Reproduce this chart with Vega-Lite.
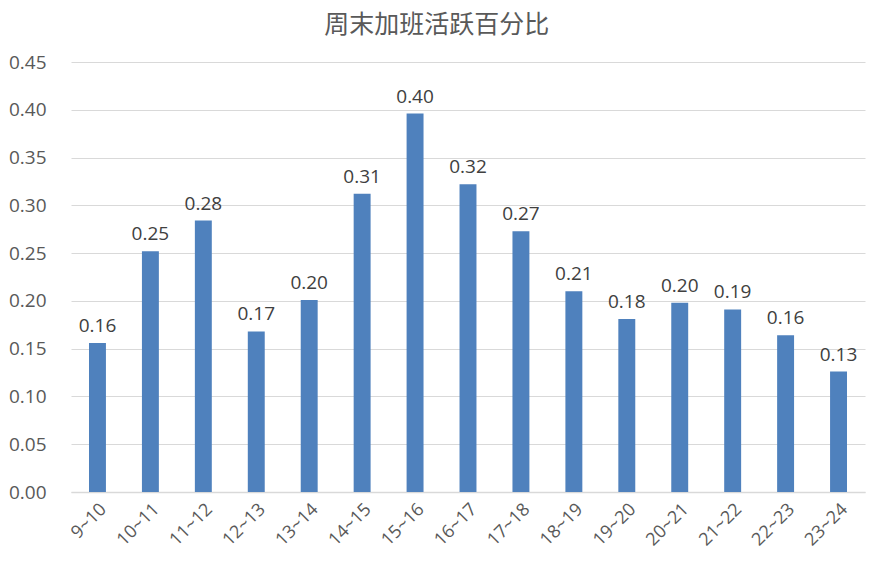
{
  "$schema": "https://vega.github.io/schema/vega-lite/v6.json",
  "autosize": {"type": "none"},
  "width": 794,
  "height": 430,
  "padding": {"left": 71, "top": 62, "right": 12, "bottom": 78},
  "background": "white",
  "config": {"view": {"stroke": null}},
  "title": {
    "text": "周末加班活跃百分比",
    "font": "Noto Sans CJK SC",
    "fontSize": 25,
    "fontWeight": "normal",
    "color": "#595959",
    "anchor": "middle",
    "frame": "bounds",
    "offset": 15
  },
  "data": {
    "values": [
      {"hour": "9~10", "value": 0.156},
      {"hour": "10~11", "value": 0.252},
      {"hour": "11~12", "value": 0.284},
      {"hour": "12~13", "value": 0.168},
      {"hour": "13~14", "value": 0.201},
      {"hour": "14~15", "value": 0.312},
      {"hour": "15~16", "value": 0.396},
      {"hour": "16~17", "value": 0.322},
      {"hour": "17~18", "value": 0.273},
      {"hour": "18~19", "value": 0.210},
      {"hour": "19~20", "value": 0.181},
      {"hour": "20~21", "value": 0.198},
      {"hour": "21~22", "value": 0.191},
      {"hour": "22~23", "value": 0.164},
      {"hour": "23~24", "value": 0.126}
    ]
  },
  "encoding": {
    "x": {
      "field": "hour",
      "type": "nominal",
      "sort": null,
      "scale": {"paddingInner": 0.68, "paddingOuter": 0.34},
      "axis": {
        "title": null,
        "labelAngle": -45,
        "labelFont": "Open Sans",
        "labelFontSize": 18,
        "labelColor": "#595959",
        "labelPadding": 8,
        "ticks": false,
        "domainColor": "#d9d9d9",
        "domainWidth": 1.5
      }
    },
    "y": {
      "field": "value",
      "type": "quantitative",
      "scale": {"domain": [0, 0.45], "nice": false},
      "axis": {
        "title": null,
        "values": [0, 0.05, 0.1, 0.15, 0.2, 0.25, 0.3, 0.35, 0.4, 0.45],
        "format": ".2f",
        "labelFont": "Open Sans",
        "labelFontSize": 19,
        "labelColor": "#595959",
        "labelPadding": 25,
        "ticks": false,
        "domain": false,
        "gridColor": "#d9d9d9",
        "gridWidth": 1.2
      }
    }
  },
  "layer": [
    {"mark": {"type": "bar", "color": "#4F81BD"}},
    {
      "mark": {
        "type": "text",
        "baseline": "bottom",
        "dy": -7,
        "font": "Open Sans",
        "fontSize": 19,
        "color": "#404040"
      },
      "encoding": {"text": {"field": "value", "type": "quantitative", "format": ".2f"}}
    }
  ]
}
